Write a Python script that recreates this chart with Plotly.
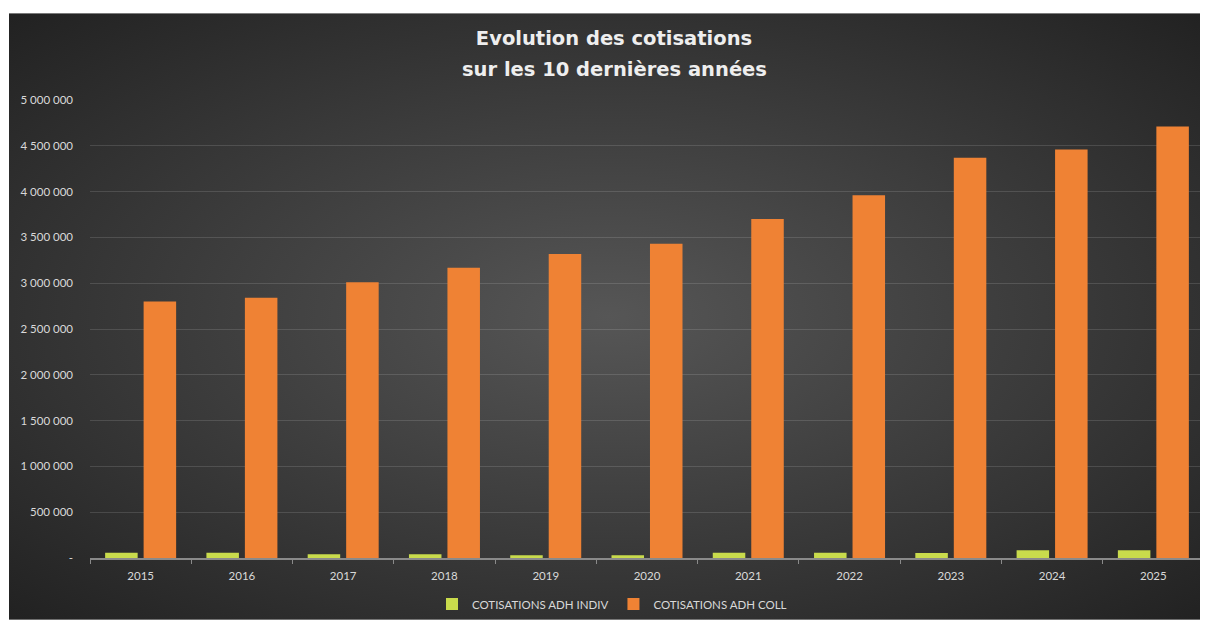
import base64
import plotly.graph_objects as go

# ---- data ----
years = ["2015", "2016", "2017", "2018", "2019", "2020", "2021", "2022", "2023", "2024", "2025"]
cotis_indiv = [58000, 57000, 42000, 41000, 31000, 30000, 58000, 58000, 55000, 84000, 84000]
cotis_coll = [2800000, 2840000, 3010000, 3170000, 3320000, 3430000, 3700000, 3960000, 4370000, 4460000, 4710000]
y_tickvals = [0, 500000, 1000000, 1500000, 2000000, 2500000, 3000000, 3500000, 4000000, 4500000, 5000000]
y_ticktext = ["-", "500 000", "1 000 000", "1 500 000", "2 000 000", "2 500 000",
              "3 000 000", "3 500 000", "4 000 000", "4 500 000", "5 000 000"]
title_line1 = "Evolution des cotisations"
title_line2 = "sur les 10 dernières années"

# page body has an 8px margin -> figure is 8px smaller and everything shifted
W, H = 1200, 613
ML, MR, MT, MB = 82, 4, 92, 62
PW, PH = W - ML - MR, H - MT - MB

FONT = "Lato"
TITLE_FONT = "DejaVu Sans"

svg = (
    '<svg xmlns="http://www.w3.org/2000/svg" width="1199" height="608" viewBox="0 0 1199 608" preserveAspectRatio="none">'
    '<defs><radialGradient id="g" cx="50%" cy="50%" r="70%">'
    '<stop offset="0%" stop-color="#565656"/>'
    '<stop offset="100%" stop-color="#222222"/>'
    '</radialGradient></defs>'
    '<rect width="1199" height="608" fill="url(#g)"/></svg>'
)
bg_uri = "data:image/svg+xml;base64," + base64.b64encode(svg.encode()).decode()

fig = go.Figure()
fig.add_trace(go.Bar(x=years, y=cotis_indiv, name="COTISATIONS ADH INDIV",
                     marker=dict(color="#C9DB4C", line=dict(width=0))))
fig.add_trace(go.Bar(x=years, y=cotis_coll, name="COTISATIONS ADH COLL",
                     marker=dict(color="#EF8234", line=dict(width=0))))

left_px, top_px = 1, 5
fig.add_layout_image(dict(
    source=bg_uri, xref="paper", yref="paper",
    x=(left_px - ML) / PW, y=(H - MB - top_px) / PH,
    sizex=(W - left_px) / PW, sizey=(H - top_px) / PH,
    xanchor="left", yanchor="top", sizing="stretch", layer="below",
))

title_font = dict(family=TITLE_FONT, size=19.5, color="#EEEEEE", weight="bold")
fig.update_layout(
    width=W, height=H,
    margin=dict(l=ML, r=MR, t=MT, b=MB),
    paper_bgcolor="white",
    plot_bgcolor="rgba(0,0,0,0)",
    barmode="group", bargap=0.24, bargroupgap=0.155,
    title=dict(
        text=title_line1,
        x=606 / W, xanchor="center", y=1 - 30 / H, yanchor="middle",
        font=title_font,
    ),
    legend=dict(
        orientation="h", x=(604 - ML) / PW, xanchor="center",
        y=(H - MB - 596) / PH, yanchor="middle",
        font=dict(family=FONT, size=11.5, color="#D9D9D9"),
        bgcolor="rgba(0,0,0,0)", itemwidth=30, traceorder="normal",
    ),
    showlegend=True,
)
fig.add_annotation(
    text=title_line2, xref="paper", yref="paper",
    x=(606 - ML) / PW, y=(H - MB - 61) / PH, xanchor="center", yanchor="middle",
    showarrow=False, font=title_font,
)

fig.update_xaxes(
    type="category", showgrid=False, showline=True, linecolor="#8A8A8A", linewidth=1.5,
    ticks="outside", tickson="boundaries", ticklen=4, tickcolor="#8A8A8A",
    tickfont=dict(family=FONT, size=11.5, color="#D9D9D9"), ticklabelstandoff=6,
    zeroline=False,
)
fig.update_yaxes(
    range=[0, 5000000], tickvals=y_tickvals, ticktext=y_ticktext,
    showgrid=True, gridcolor="rgba(255,255,255,0.13)", gridwidth=1,
    zeroline=False, showline=False, ticks="",
    tickfont=dict(family=FONT, size=11.5, color="#D9D9D9"), ticklabelstandoff=16,
)

fig.write_html("out.html")
